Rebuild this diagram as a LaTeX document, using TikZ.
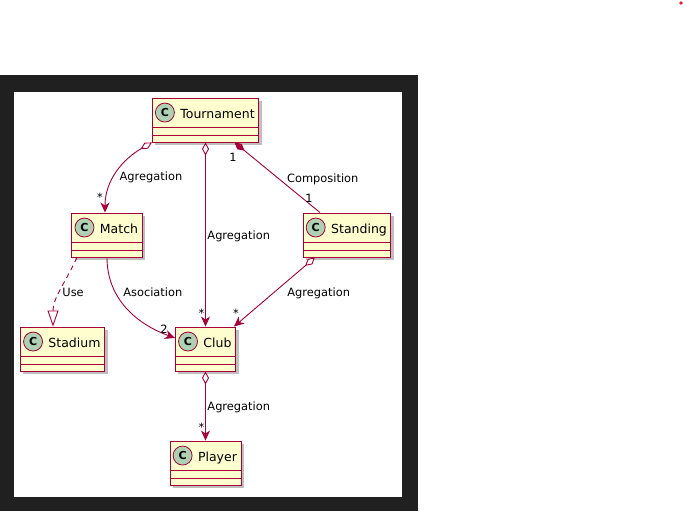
\documentclass[tikz,border=0pt]{standalone}
\usepackage{fontspec}
\setmainfont{DejaVu Sans}
\usetikzlibrary{positioning,arrows.meta,shadows}
\definecolor{umlred}{HTML}{A80036}
\definecolor{umlfill}{HTML}{FEFECE}
\definecolor{umlicon}{HTML}{ADD1B2}
\definecolor{darkframe}{HTML}{202020}
\definecolor{dotred}{HTML}{E8202A}
\tikzset{uml line/.style={draw=umlred,line width=0.9pt},
 agg edge/.style={uml line,{Diamond[fill=white,length=13pt,width=7pt]}-{Stealth[length=10pt,width=9pt,inset=3pt]}},
 comp edge/.style={uml line,{Diamond[fill=umlred,length=13pt,width=7pt]}-},
 assoc edge/.style={uml line,-{Stealth[length=10pt,width=9pt,inset=3pt]}},
 use edge/.style={uml line,dash pattern=on 5pt off 4pt,-{Triangle[fill=white,length=16pt,width=11pt]}},
 edge text/.style={font=\fontsize{11.4}{13}\selectfont,inner sep=1.5pt},
 mult/.style={edge text}}

\begin{document}
\begin{tikzpicture}[x=1pt,y=1pt,
 class icon/.style={circle,draw=umlred,fill=umlicon,line width=0.8pt,minimum size=19pt,inner sep=0pt,font=\bfseries\fontsize{11}{12}\selectfont},
 class/.style={draw=umlred,fill=umlfill,line width=0.9pt,inner xsep=4pt,inner ysep=4pt,
  text height=16.7pt,text depth=19.3pt,font=\fontsize{12.5}{14}\selectfont,
  execute at begin node={\hspace*{24pt}},
  drop shadow={shadow xshift=3pt,shadow yshift=-3pt,fill=black,opacity=0.25},
  path picture={\draw[umlred,line width=0.9pt]
   ([yshift=15pt]path picture bounding box.south west) -- ([yshift=15pt]path picture bounding box.south east)
   ([yshift=7pt]path picture bounding box.south west) -- ([yshift=7pt]path picture bounding box.south east);},
  append after command={node[class icon] at ([xshift=13pt,yshift=-15pt]\tikzlastnode.north west) {C}}}]
\useasboundingbox (0,0) rectangle (684,511);
\fill[darkframe] (0,0) rectangle (418,436);
\fill[white] (14,14) rectangle (402,419);
\fill[dotred] (681,508) circle (1.8pt);

\node[class] (T) at (205.5,391) {Tournament};
\node[class,on grid,below left=115pt and 98.5pt of T] (M) {Match};
\node[class,on grid,below right=115pt and 141.5pt of T] (S) {Standing};
\node[class,on grid,below=229pt of T] (C) {Club};
\node[class,on grid,left=143pt of C] (St) {Stadium};
\node[class,on grid,below=114pt of C] (P) {Player};

\draw[agg edge] (T.south west) to[out=-150,in=90]
 node[edge text,midway,anchor=west,yshift=-6pt]{Agregation}
 node[mult,at end,xshift=-5pt,yshift=15pt]{*} ([xshift=-2pt]M.north);
\draw[agg edge] (T) -- node[edge text,midway,anchor=west,yshift=-2pt]{Agregation}
 node[mult,at end,xshift=-4pt,yshift=13pt]{*} (C);
\draw[comp edge] ([xshift=29pt]T.south) -- node[edge text,midway,anchor=west,xshift=8pt,yshift=-2pt]{Composition}
 node[mult,at start,xshift=-1.5pt,yshift=-15pt]{1}
 node[mult,at end,xshift=-11pt,yshift=14pt]{1} ([xshift=-27pt]S.north);
\draw[agg edge] ([xshift=-32pt]S.south) -- node[edge text,midway,anchor=west,xshift=11pt,yshift=-1pt]{Agregation}
 node[mult,at end,xshift=2pt,yshift=13pt]{*} ([xshift=-2pt]C.north east);
\draw[assoc edge] (M.south) to[out=-90,in=160]
 node[edge text,pos=0.3,anchor=west,xshift=7pt,yshift=-2pt]{Asociation}
 node[mult,at end,xshift=-11pt,yshift=9pt]{2} ([yshift=11pt]C.west);
\draw[use edge] ([xshift=-30pt]M.south) to[out=-115,in=90]
 node[edge text,midway,anchor=west,yshift=-1pt]{Use} ([xshift=-9.5pt]St.north);
\draw[agg edge] (C) -- node[edge text,midway,anchor=west,yshift=-1pt]{Agregation}
 node[mult,at end,xshift=-4pt,yshift=13pt]{*} (P);
\end{tikzpicture}
\end{document}
